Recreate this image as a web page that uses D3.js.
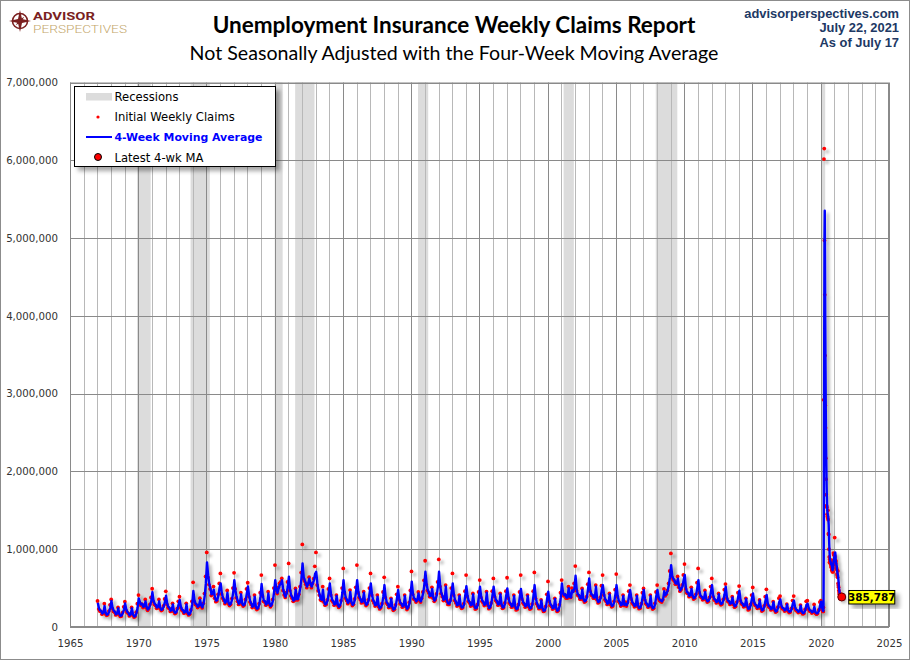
<!DOCTYPE html>
<html lang="en">
<head>
<meta charset="UTF-8" />
<title>Unemployment Insurance Weekly Claims Report</title>
<script src="https://d3js.org/d3.v7.min.js"></script>
<style>
  body { margin: 0; background: #fff; }
  svg { display: block; font-family: "DejaVu Sans", sans-serif; }
</style>
</head>
<body>
<svg width="910" height="660"></svg>
<script>
// all claim values in thousands

// 1967-2019: one reading per month (Jan..Dec) of the 4-week moving average
const firstYear = 1967;
const maMonthly = [
  [312,240,215,205,175,185,270,180,158,165,200,250], // 1967
  [334,245,210,195,165,175,240,165,142,148,180,225], // 1968
  [304,225,195,180,150,165,240,160,135,140,180,250], // 1969
  [368,320,290,300,260,270,330,255,225,245,280,330], // 1970
  [449,340,300,285,250,260,330,245,222,230,265,320], // 1971
  [402,300,260,245,210,220,290,205,182,190,230,290], // 1972
  [347,260,225,215,185,195,290,185,162,170,210,290], // 1973
  [462,340,300,290,260,275,347,275,255,300,400,560], // 1974
  [830,660,560,500,420,430,480,380,340,345,400,500], // 1975
  [560,440,380,350,310,330,440,310,285,300,350,440], // 1976
  [603,470,390,340,300,315,420,300,280,290,340,430], // 1977
  [520,400,330,300,260,275,390,260,235,245,290,390], // 1978
  [552,410,340,330,290,305,430,300,270,290,340,450], // 1979
  [603,480,440,500,540,560,600,480,420,390,430,520], // 1980
  [646,480,410,380,340,350,480,360,360,420,500,620], // 1981
  [817,640,600,560,520,560,620,560,520,560,600,680], // 1982
  [710,560,480,420,360,350,480,330,290,300,340,440], // 1983
  [560,420,350,330,290,300,400,290,262,280,330,440], // 1984
  [603,450,380,350,310,330,450,320,285,300,350,450], // 1985
  [603,450,390,360,320,330,440,320,285,300,340,440], // 1986
  [560,420,350,320,280,290,390,270,242,255,290,390], // 1987
  [539,390,320,300,260,270,360,255,225,235,275,370], // 1988
  [475,360,310,300,265,280,400,270,235,255,300,420], // 1989
  [582,430,370,360,330,350,430,350,330,370,430,530], // 1990
  [710,560,480,450,400,400,490,380,340,360,410,520], // 1991
  [710,530,440,400,350,360,520,340,300,300,330,440], // 1992
  [560,420,350,320,280,290,400,280,250,255,290,400], // 1993
  [526,400,340,320,280,290,420,280,240,245,280,390], // 1994
  [518,390,340,320,285,300,440,290,245,255,300,410], // 1995
  [518,400,350,330,290,300,420,290,250,255,300,400], // 1996
  [496,380,320,300,265,275,400,265,230,235,280,390], // 1997
  [490,370,320,300,265,280,400,270,240,245,285,400], // 1998
  [539,380,310,280,245,250,340,240,210,215,255,360], // 1999
  [454,340,290,275,240,250,360,245,210,220,270,380], // 2000
  [560,440,410,420,380,380,500,390,380,470,450,500], // 2001
  [659,480,420,410,370,370,480,360,330,340,380,490], // 2002
  [625,470,420,410,380,380,520,360,320,330,370,470], // 2003
  [539,420,360,340,300,310,420,300,270,280,320,420], // 2004
  [539,400,340,320,280,290,400,285,300,280,310,400], // 2005
  [475,370,320,300,270,280,400,275,245,250,290,390], // 2006
  [475,360,310,295,265,275,400,270,240,250,295,400], // 2007
  [475,380,350,340,330,360,460,410,430,470,540,640], // 2008
  [796,650,620,600,560,560,620,520,470,490,520,600], // 2009
  [668,500,450,440,400,410,490,400,370,380,410,500], // 2010
  [603,450,400,390,360,370,450,360,330,340,370,450], // 2011
  [539,400,360,350,320,330,420,320,295,305,345,420], // 2012
  [518,380,340,330,300,310,380,300,265,275,310,390], // 2013
  [466,350,310,300,270,280,360,270,230,240,280,360], // 2014
  [432,320,290,280,250,260,340,250,215,225,260,340], // 2015
  [411,300,270,260,230,240,320,230,200,210,245,320], // 2016
  [355,270,245,240,215,225,290,215,195,200,230,300], // 2017
  [338,250,225,215,195,205,275,195,178,185,215,285], // 2018
  [300,240,215,210,190,200,260,190,175,180,210,280]  // 2019
];

// 1967-2019: one initial-claims week per month
const claimsMonthly = [
  [334,230,205,200,165,178,300,170,150,158,205,285], // 1967
  [355,235,200,190,155,168,252,158,136,140,185,260], // 1968
  [325,215,188,172,142,158,252,152,128,135,190,300], // 1969
  [411,305,280,295,250,262,355,245,215,238,290,380], // 1970
  [492,325,290,275,240,250,355,238,212,222,270,360], // 1971
  [458,290,250,238,200,212,304,198,172,182,235,330], // 1972
  [389,250,218,205,178,188,304,178,155,165,220,330], // 1973
  [574,325,290,280,250,265,370,268,245,305,430,650], // 1974
  [959,640,545,490,405,420,520,370,325,335,420,560], // 1975
  [689,425,370,340,300,318,470,300,275,290,365,500], // 1976
  [697,490,375,330,290,305,440,290,270,282,355,490], // 1977
  [569,390,320,290,250,265,411,250,225,238,300,440], // 1978
  [668,400,330,320,280,295,454,290,260,282,355,500], // 1979
  [796,470,430,510,560,580,625,470,410,380,440,580], // 1980
  [817,470,400,370,330,340,496,350,350,420,520,700], // 1981
  [1061,620,590,550,505,550,640,550,505,560,620,780], // 1982
  [959,540,465,410,350,340,518,320,280,290,350,490], // 1983
  [625,410,340,320,280,290,411,280,252,270,340,500], // 1984
  [753,440,370,340,300,320,475,310,275,292,360,510], // 1985
  [796,440,380,350,310,320,454,310,275,292,350,500], // 1986
  [689,410,340,310,270,280,410,262,232,248,300,450], // 1987
  [638,380,310,290,250,260,368,245,215,228,285,420], // 1988
  [518,350,300,290,255,270,411,262,225,248,315,470], // 1989
  [715,420,360,350,320,340,450,340,320,370,450,600], // 1990
  [852,545,470,440,390,390,510,370,330,350,425,580], // 1991
  [869,520,430,390,340,350,539,330,290,290,345,500], // 1992
  [689,410,340,310,270,280,411,270,240,248,300,460], // 1993
  [668,390,330,310,270,280,432,270,230,238,290,450], // 1994
  [603,380,330,310,275,290,454,280,235,248,310,460], // 1995
  [625,390,340,320,280,290,432,280,240,248,310,460], // 1996
  [633,370,310,290,255,265,411,255,220,228,290,450], // 1997
  [668,360,310,290,255,270,411,260,230,238,295,460], // 1998
  [702,370,300,270,235,240,347,230,200,208,265,420], // 1999
  [586,330,280,265,230,240,368,235,200,212,285,440], // 2000
  [603,430,400,410,370,370,518,380,380,500,460,560], // 2001
  [783,470,410,400,360,360,496,350,320,330,390,550], // 2002
  [702,460,410,400,370,370,539,350,310,320,380,530], // 2003
  [668,410,350,330,290,300,432,290,260,270,330,480], // 2004
  [680,390,330,310,270,280,411,275,320,270,320,460], // 2005
  [539,360,310,290,260,270,411,265,235,242,300,440], // 2006
  [496,350,300,285,255,265,411,260,230,242,305,450], // 2007
  [539,370,340,330,320,350,490,400,420,470,560,720], // 2008
  [946,640,610,590,550,550,650,510,460,480,540,670], // 2009
  [809,490,440,430,390,400,510,390,360,370,420,570], // 2010
  [753,440,390,380,350,360,470,350,320,330,380,520], // 2011
  [625,390,350,340,310,320,432,310,285,295,355,480], // 2012
  [552,370,330,320,290,300,389,290,255,265,320,440], // 2013
  [526,340,300,290,260,270,368,260,220,230,290,410], // 2014
  [509,310,280,270,240,250,347,240,205,215,270,390], // 2015
  [484,290,260,250,220,230,325,220,192,200,255,370], // 2016
  [398,260,235,230,205,215,295,205,185,192,240,340], // 2017
  [398,240,215,205,185,195,282,185,168,175,225,330], // 2018
  [338,230,205,200,180,190,290,180,165,172,220,320]  // 2019
];

// 2020-2021: weekly, week ending Saturday, first week ending 2020-01-04
const weeklyStart = "2020-01-04";
const claimsWeekly = [
  338,320,270,255,240,225,215,205,200,200,251,2920,6015,6150,4970,4270,
  3490,2850,2560,2170,1900,1700,1560,1540,1450,1420,1400,1500,1380,1200,
  1190,1000,900,830,870,850,820,830,800,770,860,770,730,740,710,740,830,
  710,950,930,860,840,920,1150,900,860,800,820,850,760,760,740,680,660,
  640,720,560,530,510,470,440,420,400,380,370,380,400,370,380,420,373
];
const maWeekly = [
  310,325,315,296,271,248,234,221,211,205,214,893,2347,3834,5014,5351,
  4720,3895,3293,2768,2370,2083,1833,1675,1563,1493,1453,1443,1425,1370,
  1318,1193,1073,980,900,863,843,843,825,805,815,800,783,775,738,730,755,
  748,808,855,863,895,888,943,953,958,928,845,833,808,798,778,735,710,
  680,675,645,613,580,518,488,460,433,410,393,383,383,380,383,393,385.787
];
const latestMA = 385787;

const recessions = [
  ["1969-12-01", "1970-11-30"],
  ["1973-11-01", "1975-03-31"],
  ["1980-01-01", "1980-07-31"],
  ["1981-07-01", "1982-11-30"],
  ["1990-07-01", "1991-03-31"],
  ["2001-03-01", "2001-11-30"],
  ["2007-12-01", "2009-06-30"],
  ["2020-02-01", "2020-04-30"]
];

const xTickYears = [1965, 1970, 1975, 1980, 1985, 1990, 1995, 2000, 2005, 2010, 2015, 2020, 2025];
const yTickValues = [0, 1000, 2000, 3000, 4000, 5000, 6000, 7000];

// ---------- build the series ----------
const parse = d3.timeParse("%Y-%m-%d");
const maSeries = [];
const claimSeries = [];
maMonthly.forEach((row, i) => {
  row.forEach((v, m) => {
    maSeries.push({ date: new Date(firstYear + i, m, 15), value: v });
    claimSeries.push({ date: new Date(firstYear + i, m, 8), value: claimsMonthly[i][m] });
  });
});
const w0 = parse(weeklyStart);
claimsWeekly.forEach((v, i) => {
  const d = d3.timeDay.offset(w0, 7 * i);
  claimSeries.push({ date: d, value: v });
  maSeries.push({ date: d, value: maWeekly[i] });
});
const latest = maSeries[maSeries.length - 1];

// ---------- layout ----------
const svg = d3.select("svg");
const W = 910, H = 660;
const plot = { left: 70, right: 889, top: 82.5, bottom: 627 };

const x = d3.scaleTime()
  .domain([new Date(1965, 0, 1), new Date(2025, 0, 1)])
  .range([plot.left, plot.right]);
const y = d3.scaleLinear()
  .domain([0, 7000])
  .range([plot.bottom, plot.top]);

const defs = svg.append("defs");
const sh = defs.append("filter").attr("id", "shadow")
  .attr("x", "-2%").attr("y", "-2%").attr("width", "104%").attr("height", "104%");
sh.append("feDropShadow").attr("dx", 3).attr("dy", 3)
  .attr("stdDeviation", 1.5).attr("flood-color", "#000").attr("flood-opacity", 0.3);
const boxSh = defs.append("filter").attr("id", "boxshadow")
  .attr("x", "-10%").attr("y", "-10%").attr("width", "130%").attr("height", "140%");
boxSh.append("feDropShadow").attr("dx", 4).attr("dy", 4)
  .attr("stdDeviation", 2).attr("flood-color", "#000").attr("flood-opacity", 0.35);

// outer frame
svg.append("rect").attr("x", 0.5).attr("y", 0.5).attr("width", W - 1).attr("height", H - 1)
  .attr("fill", "#fff").attr("stroke", "#8c8c8c");

// ---------- header ----------
const logo = svg.append("g").attr("transform", "translate(20,21)");
logo.append("circle").attr("r", 7.5).attr("fill", "none").attr("stroke", "#7b1f1f").attr("stroke-width", 1.6);
logo.append("path")
  .attr("d", "M0,-11 L2,-2 L11,0 L2,2 L0,11 L-2,2 L-11,0 L-2,-2 Z")
  .attr("fill", "#7b1f1f");
logo.append("path")
  .attr("d", "M0,-6 L1.5,0 L0,6 L-1.5,0 Z")
  .attr("fill", "#7b1f1f").attr("transform", "rotate(45)");
svg.append("text").attr("x", 33).attr("y", 20)
  .attr("font-family", "Roboto, sans-serif").attr("font-weight", 700).attr("font-size", 11)
  .attr("fill", "#7b1f1f").attr("textLength", 62).attr("lengthAdjust", "spacingAndGlyphs").text("ADVISOR");
svg.append("text").attr("x", 33).attr("y", 32.8)
  .attr("font-family", "Roboto, sans-serif").attr("font-weight", 300).attr("font-size", 10.5)
  .attr("fill", "#c4a76b").attr("textLength", 94).attr("lengthAdjust", "spacingAndGlyphs").text("PERSPECTIVES");

svg.append("text").attr("x", 454).attr("y", 33).attr("text-anchor", "middle")
  .attr("font-family", "Lato, sans-serif").attr("font-weight", 700).attr("font-size", 22.5)
  .attr("fill", "#000").text("Unemployment Insurance Weekly Claims Report");
svg.append("text").attr("x", 454).attr("y", 60).attr("text-anchor", "middle")
  .attr("font-family", "Lato, sans-serif").attr("font-size", 19.6)
  .attr("fill", "#000").text("Not Seasonally Adjusted with the Four-Week Moving Average");

const hdr = ["advisorperspectives.com", "July 22, 2021", "As of July 17"];
svg.append("g").selectAll("text").data(hdr).join("text")
  .attr("x", 899).attr("y", (d, i) => 18 + i * 14.3).attr("text-anchor", "end")
  .attr("font-family", "Liberation Sans, Arial, sans-serif").attr("font-weight", 700)
  .attr("font-size", 12.9).attr("fill", "#203864").text(d => d);

// ---------- plot area ----------
svg.append("rect").attr("x", plot.left).attr("y", plot.top)
  .attr("width", plot.right - plot.left).attr("height", plot.bottom - plot.top).attr("fill", "#fff");

svg.append("g").selectAll("rect").data(recessions).join("rect")
  .attr("x", d => x(parse(d[0])))
  .attr("width", d => x(parse(d[1])) - x(parse(d[0])))
  .attr("y", plot.top).attr("height", plot.bottom - plot.top)
  .attr("fill", "#dcdcdc");

// yearly vertical gridlines, darker every five years
const years = x.ticks(d3.timeYear.every(1));
svg.append("g").selectAll("line").data(years).join("line")
  .attr("x1", d => Math.round(x(d)) + 0.5).attr("x2", d => Math.round(x(d)) + 0.5)
  .attr("y1", plot.top).attr("y2", plot.bottom)
  .attr("stroke", d => d.getFullYear() % 5 === 0 ? "#8a8a8a" : "#b8b8b8")
  .attr("stroke-width", 1);

svg.append("g").selectAll("line").data(yTickValues).join("line")
  .attr("x1", plot.left).attr("x2", plot.right)
  .attr("y1", d => Math.round(y(d)) + 0.5).attr("y2", d => Math.round(y(d)) + 0.5)
  .attr("stroke", "#8a8a8a");

svg.append("rect").attr("x", plot.left + 0.5).attr("y", plot.top + 0.5)
  .attr("width", plot.right - plot.left - 1).attr("height", plot.bottom - plot.top - 1)
  .attr("fill", "none").attr("stroke", "#8a8a8a");

// axes labels
const fmt = d3.format(",");
const yAxis = d3.axisLeft(y).tickValues(yTickValues).tickSize(0).tickPadding(12)
  .tickFormat(d => fmt(d * 1000));
svg.append("g").attr("transform", `translate(${plot.left},0)`).call(yAxis)
  .call(g => g.select(".domain").remove())
  .call(g => g.selectAll("text").attr("font-family", "DejaVu Sans, sans-serif")
    .attr("font-size", 10.2).attr("fill", "#333"));

const xAxis = d3.axisBottom(x).tickValues(xTickYears.map(v => new Date(v, 0, 1)))
  .tickSize(0).tickPadding(13).tickFormat(d3.timeFormat("%Y"));
svg.append("g").attr("transform", `translate(0,${plot.bottom})`).call(xAxis)
  .call(g => g.select(".domain").remove())
  .call(g => g.selectAll("text").attr("font-family", "DejaVu Sans, sans-serif")
    .attr("font-size", 10.2).attr("fill", "#333"));

// ---------- data ----------
const dataG = svg.append("g").attr("filter", "url(#shadow)");
dataG.append("g").selectAll("circle").data(claimSeries).join("circle")
  .attr("cx", d => x(d.date)).attr("cy", d => y(d.value))
  .attr("r", 1.9).attr("fill", "#ff0000");
dataG.append("path").datum(maSeries)
  .attr("fill", "none").attr("stroke", "#0000ff").attr("stroke-width", 2.4)
  .attr("stroke-linejoin", "round")
  .attr("d", d3.line().x(d => x(d.date)).y(d => y(d.value)));

// latest marker + label
svg.append("circle").attr("cx", x(latest.date)).attr("cy", y(latest.value))
  .attr("r", 4).attr("fill", "#ff0000").attr("stroke", "#600").attr("stroke-width", 1);
const lbl = svg.append("g").attr("transform", `translate(${x(latest.date) + 6.5},${y(latest.value)})`);
lbl.append("rect").attr("x", 0.5).attr("y", -6.5).attr("width", 46).attr("height", 13.5)
  .attr("fill", "#ffff00").attr("stroke", "#000").attr("filter", "url(#boxshadow)");
lbl.append("text").attr("x", 23.5).attr("y", 4).attr("text-anchor", "middle")
  .attr("font-family", "DejaVu Sans, sans-serif").attr("font-weight", 700).attr("font-size", 10.4)
  .attr("fill", "#000").text(fmt(latestMA));

// ---------- legend ----------
const lg = svg.append("g").attr("transform", "translate(74.5,86.5)");
lg.append("rect").attr("width", 201).attr("height", 80)
  .attr("fill", "#fff").attr("stroke", "#000").attr("filter", "url(#boxshadow)");
lg.append("rect").attr("x", 11.5).attr("y", 6.5).attr("width", 26).attr("height", 7.5).attr("fill", "#dcdcdc");
lg.append("circle").attr("cx", 23.5).attr("cy", 30.5).attr("r", 1.6).attr("fill", "#ff0000");
lg.append("line").attr("x1", 11.5).attr("x2", 37.5).attr("y1", 50.5).attr("y2", 50.5)
  .attr("stroke", "#0000ff").attr("stroke-width", 2);
lg.append("circle").attr("cx", 23.5).attr("cy", 70.5).attr("r", 3.5)
  .attr("fill", "#ff0000").attr("stroke", "#000").attr("stroke-width", 1);
const legendItems = [
  { label: "Recessions", color: "#000", bold: false },
  { label: "Initial Weekly Claims", color: "#000", bold: false },
  { label: "4-Week Moving Average", color: "#0000ff", bold: true },
  { label: "Latest 4-wk MA", color: "#000", bold: false }
];
lg.selectAll("text.item").data(legendItems).join("text")
  .attr("class", "item")
  .attr("x", 40).attr("y", (d, i) => 14.5 + i * 20.2)
  .attr("font-family", "DejaVu Sans, sans-serif")
  .attr("font-size", d => d.bold ? 10.9 : 11.6)
  .attr("font-weight", d => d.bold ? 700 : 400)
  .attr("fill", d => d.color).text(d => d.label);
</script>
</body>
</html>
